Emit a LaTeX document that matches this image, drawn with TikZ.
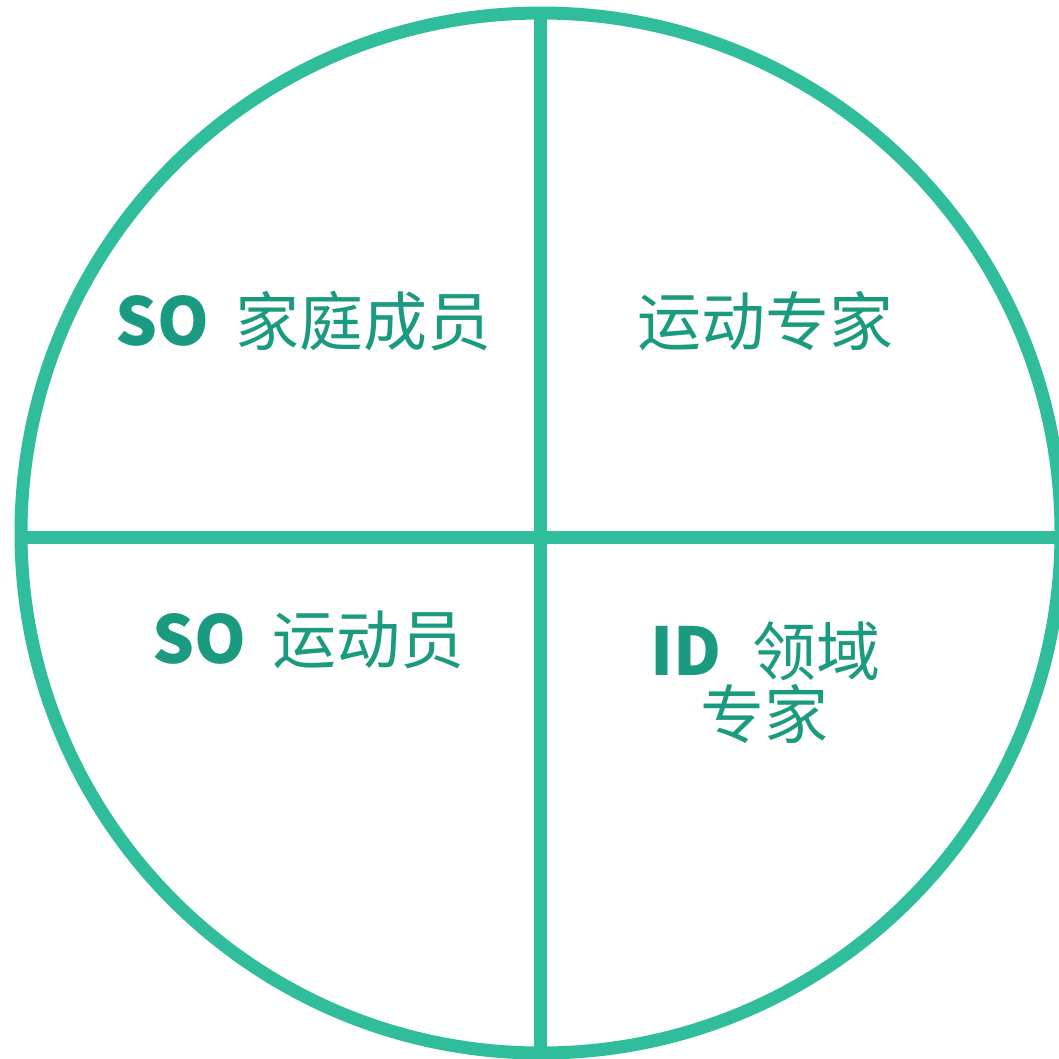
\documentclass[tikz,border=0pt]{standalone}
\usepackage{fontspec}
\setmainfont{Open Sans}
\newfontfamily\cjk{Noto Sans CJK SC}
\definecolor{ring}{HTML}{2FBD9B}
\definecolor{ink}{HTML}{1A9A7F}
\newcommand{\lat}[1]{{\bfseries\fontsize{66}{68}\selectfont #1}}
\begin{document}
\begin{tikzpicture}[x=1pt,y=-1pt,
  ringline/.style={draw=ring,line width=13pt},
  lbl/.style={text=ink,inner sep=0pt,font=\cjk\fontsize{64}{68}\selectfont}]
\useasboundingbox (0,0) rectangle (1059,1058);
\fill[white] (0,0) rectangle (1059,1058);
\coordinate (c) at (541,533);
\coordinate (top) at (540,13);
\coordinate (bot) at (540,1053);
\coordinate (lft) at (21,537);
\coordinate (rgt) at (1061,537);
\draw[ringline] (c) circle (520);
\draw[ringline] (top) -- (bot);
\draw[ringline] (lft) -- (rgt);
\node[lbl,anchor=west] (a) at (115,321) {\lat{SO}\hspace{26pt}家庭成员};
\node[lbl,anchor=west] (b) at (637,321) {运动专家};
\node[lbl,anchor=west] (d) at (152,640) {\lat{SO}\hspace{26pt}运动员};
\node[lbl,anchor=west] (e) at (650,651) {\lat{ID}\hspace{31pt}领域};
\node[lbl,anchor=west] (f) at (700,714) {专家};
\end{tikzpicture}
\end{document}
